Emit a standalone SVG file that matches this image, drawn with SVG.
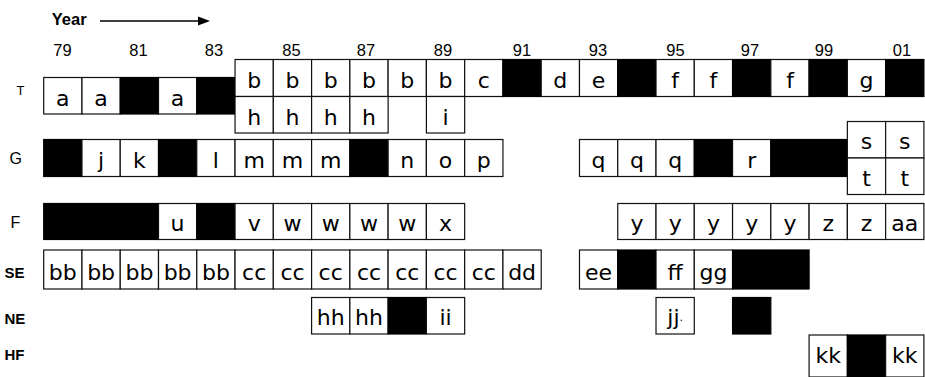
<svg xmlns="http://www.w3.org/2000/svg" width="925" height="377" viewBox="0 0 925 377">
<defs>
<marker id="ah" markerWidth="12" markerHeight="10" refX="1" refY="5" orient="auto" markerUnits="userSpaceOnUse">
<polygon points="0,0.5 12,5 0,9.5" fill="#000"/>
</marker>
<style>
.w{fill:#fff;stroke:#111;stroke-width:1.2}
.k{fill:#000;stroke:#000;stroke-width:1.2}
.t{font-family:"DejaVu Sans","Liberation Sans",sans-serif;font-size:22px;text-anchor:middle;fill:#000}
.yr{font-family:"Liberation Sans",Arial,sans-serif;font-size:16.5px;text-anchor:middle;fill:#000}
.rl{font-family:"Liberation Sans",Arial,sans-serif;font-size:16px;fill:#000}
.rb{font-family:"Liberation Sans",Arial,sans-serif;font-size:15px;font-weight:bold;fill:#000}
</style>
</defs>
<rect width="925" height="377" fill="#fff"/>

<g id="axis">
<text x="51.7" y="25" font-family="Liberation Sans,Arial,sans-serif" font-size="16.5" font-weight="bold">Year</text>
<g class="yr">
<text x="62.5" y="56">79</text><text x="138.5" y="56">81</text><text x="214" y="56">83</text><text x="291.5" y="56">85</text>
<text x="366" y="56">87</text><text x="443" y="56">89</text><text x="522" y="56">91</text><text x="598" y="56">93</text>
<text x="675.5" y="56">95</text><text x="750" y="56">97</text><text x="824" y="56">99</text><text x="902" y="56">01</text>
</g>
</g>

<g id="connectors">
<line x1="100" y1="21" x2="199" y2="21" stroke="#000" stroke-width="1.4" marker-end="url(#ah)"/>
</g>

<g id="labels">
<text x="16.5" y="94.5" style="font-family:'Liberation Sans',Arial,sans-serif;font-size:13px">T</text>
<text class="rl" x="9.5" y="164">G</text>
<text class="rl" x="10.5" y="228">F</text>
<text class="rb" x="4.5" y="277.5">SE</text>
<text class="rb" x="4.5" y="323.5">NE</text>
<text class="rb" x="4.5" y="359.5">HF</text>
</g>

<g id="row-T">
<rect class="w" x="43.7" y="77.5" width="38.27" height="36.5"/><text class="t" x="62.8" y="105.5">a</text>
<rect class="w" x="81.97" y="77.5" width="38.27" height="36.5"/><text class="t" x="101.1" y="105.5">a</text>
<rect class="k" x="120.24" y="77.5" width="38.27" height="36.5"/>
<rect class="w" x="158.51" y="77.5" width="38.27" height="36.5"/><text class="t" x="177.6" y="105.5">a</text>
<rect class="k" x="196.78" y="77.5" width="38.27" height="36.5"/>
<rect class="w" x="235.05" y="59.5" width="38.27" height="37"/><text class="t" x="254.2" y="87.5">b</text>
<rect class="w" x="273.32" y="59.5" width="38.27" height="37"/><text class="t" x="292.5" y="87.5">b</text>
<rect class="w" x="311.59" y="59.5" width="38.27" height="37"/><text class="t" x="330.7" y="87.5">b</text>
<rect class="w" x="349.86" y="59.5" width="38.27" height="37"/><text class="t" x="369" y="87.5">b</text>
<rect class="w" x="388.13" y="59.5" width="38.27" height="37"/><text class="t" x="407.3" y="87.5">b</text>
<rect class="w" x="426.4" y="59.5" width="38.27" height="37"/><text class="t" x="445.5" y="87.5">b</text>
<rect class="w" x="235.05" y="96.5" width="38.27" height="36.5"/><text class="t" x="254.2" y="124.5">h</text>
<rect class="w" x="273.32" y="96.5" width="38.27" height="36.5"/><text class="t" x="292.5" y="124.5">h</text>
<rect class="w" x="311.59" y="96.5" width="38.27" height="36.5"/><text class="t" x="330.7" y="124.5">h</text>
<rect class="w" x="349.86" y="96.5" width="38.27" height="36.5"/><text class="t" x="369" y="124.5">h</text>
<rect class="w" x="426.4" y="96.5" width="38.27" height="36.5"/><text class="t" x="445.5" y="124.5">i</text>
<rect class="w" x="464.67" y="59.5" width="38.27" height="37"/><text class="t" x="483.8" y="87.5">c</text>
<rect class="k" x="502.94" y="59.5" width="38.27" height="37"/>
<rect class="w" x="541.21" y="59.5" width="38.27" height="37"/><text class="t" x="560.3" y="87.5">d</text>
<rect class="w" x="579.48" y="59.5" width="38.27" height="37"/><text class="t" x="598.6" y="87.5">e</text>
<rect class="k" x="617.75" y="59.5" width="38.27" height="37"/>
<rect class="w" x="656.02" y="59.5" width="38.27" height="37"/><text class="t" x="675.2" y="87.5">f</text>
<rect class="w" x="694.29" y="59.5" width="38.27" height="37"/><text class="t" x="713.4" y="87.5">f</text>
<rect class="k" x="732.56" y="59.5" width="38.27" height="37"/>
<rect class="w" x="770.83" y="59.5" width="38.27" height="37"/><text class="t" x="790" y="87.5">f</text>
<rect class="k" x="809.1" y="59.5" width="38.27" height="37"/>
<rect class="w" x="847.37" y="59.5" width="38.27" height="37"/><text class="t" x="866.5" y="87.5">g</text>
<rect class="k" x="885.64" y="59.5" width="38.27" height="37"/>
</g>

<g id="row-G">
<rect class="k" x="43.7" y="139.5" width="38.27" height="37"/>
<rect class="w" x="81.97" y="139.5" width="38.27" height="37"/><text class="t" x="101.1" y="167.5">j</text>
<rect class="w" x="120.24" y="139.5" width="38.27" height="37"/><text class="t" x="139.4" y="167.5">k</text>
<rect class="k" x="158.51" y="139.5" width="38.27" height="37"/>
<rect class="w" x="196.78" y="139.5" width="38.27" height="37"/><text class="t" x="215.9" y="167.5">l</text>
<rect class="w" x="235.05" y="139.5" width="38.27" height="37"/><text class="t" x="254.2" y="167.5">m</text>
<rect class="w" x="273.32" y="139.5" width="38.27" height="37"/><text class="t" x="292.5" y="167.5">m</text>
<rect class="w" x="311.59" y="139.5" width="38.27" height="37"/><text class="t" x="330.7" y="167.5">m</text>
<rect class="k" x="349.86" y="139.5" width="38.27" height="37"/>
<rect class="w" x="388.13" y="139.5" width="38.27" height="37"/><text class="t" x="407.3" y="167.5">n</text>
<rect class="w" x="426.4" y="139.5" width="38.27" height="37"/><text class="t" x="445.5" y="167.5">o</text>
<rect class="w" x="464.67" y="139.5" width="38.27" height="37"/><text class="t" x="483.8" y="167.5">p</text>
<rect class="w" x="579.48" y="139.5" width="38.27" height="37"/><text class="t" x="598.6" y="167.5">q</text>
<rect class="w" x="617.75" y="139.5" width="38.27" height="37"/><text class="t" x="636.9" y="167.5">q</text>
<rect class="w" x="656.02" y="139.5" width="38.27" height="37"/><text class="t" x="675.2" y="167.5">q</text>
<rect class="k" x="694.29" y="139.5" width="38.27" height="37"/>
<rect class="w" x="732.56" y="139.5" width="38.27" height="37"/><text class="t" x="751.7" y="167.5">r</text>
<rect class="k" x="770.83" y="139.5" width="76.54" height="37"/>
<rect class="w" x="847.37" y="121.5" width="38.27" height="36.5"/><text class="t" x="866.5" y="149">s</text>
<rect class="w" x="885.64" y="121.5" width="38.27" height="36.5"/><text class="t" x="904.8" y="149">s</text>
<rect class="w" x="847.37" y="158" width="38.27" height="36.5"/><text class="t" x="866.5" y="185.5">t</text>
<rect class="w" x="885.64" y="158" width="38.27" height="36.5"/><text class="t" x="904.8" y="185.5">t</text>
</g>

<g id="row-F">
<rect class="k" x="43.7" y="203.5" width="114.81" height="36"/>
<rect class="w" x="158.51" y="203.5" width="38.27" height="36"/><text class="t" x="177.6" y="231">u</text>
<rect class="k" x="196.78" y="203.5" width="38.27" height="36"/>
<rect class="w" x="235.05" y="203.5" width="38.27" height="36"/><text class="t" x="254.2" y="231">v</text>
<rect class="w" x="273.32" y="203.5" width="38.27" height="36"/><text class="t" x="292.5" y="231">w</text>
<rect class="w" x="311.59" y="203.5" width="38.27" height="36"/><text class="t" x="330.7" y="231">w</text>
<rect class="w" x="349.86" y="203.5" width="38.27" height="36"/><text class="t" x="369" y="231">w</text>
<rect class="w" x="388.13" y="203.5" width="38.27" height="36"/><text class="t" x="407.3" y="231">w</text>
<rect class="w" x="426.4" y="203.5" width="38.27" height="36"/><text class="t" x="445.5" y="231">x</text>
<rect class="w" x="617.75" y="203.5" width="38.27" height="36"/><text class="t" x="636.9" y="231">y</text>
<rect class="w" x="656.02" y="203.5" width="38.27" height="36"/><text class="t" x="675.2" y="231">y</text>
<rect class="w" x="694.29" y="203.5" width="38.27" height="36"/><text class="t" x="713.4" y="231">y</text>
<rect class="w" x="732.56" y="203.5" width="38.27" height="36"/><text class="t" x="751.7" y="231">y</text>
<rect class="w" x="770.83" y="203.5" width="38.27" height="36"/><text class="t" x="790" y="231">y</text>
<rect class="w" x="809.1" y="203.5" width="38.27" height="36"/><text class="t" x="828.2" y="231">z</text>
<rect class="w" x="847.37" y="203.5" width="38.27" height="36"/><text class="t" x="866.5" y="231">z</text>
<rect class="w" x="885.64" y="203.5" width="38.27" height="36"/><text class="t" x="904.8" y="231">aa</text>
</g>

<g id="row-SE">
<rect class="w" x="43.7" y="250" width="38.27" height="39"/><text class="t" x="62.8" y="280">bb</text>
<rect class="w" x="81.97" y="250" width="38.27" height="39"/><text class="t" x="101.1" y="280">bb</text>
<rect class="w" x="120.24" y="250" width="38.27" height="39"/><text class="t" x="139.4" y="280">bb</text>
<rect class="w" x="158.51" y="250" width="38.27" height="39"/><text class="t" x="177.6" y="280">bb</text>
<rect class="w" x="196.78" y="250" width="38.27" height="39"/><text class="t" x="215.9" y="280">bb</text>
<rect class="w" x="235.05" y="250" width="38.27" height="39"/><text class="t" x="254.2" y="280">cc</text>
<rect class="w" x="273.32" y="250" width="38.27" height="39"/><text class="t" x="292.5" y="280">cc</text>
<rect class="w" x="311.59" y="250" width="38.27" height="39"/><text class="t" x="330.7" y="280">cc</text>
<rect class="w" x="349.86" y="250" width="38.27" height="39"/><text class="t" x="369" y="280">cc</text>
<rect class="w" x="388.13" y="250" width="38.27" height="39"/><text class="t" x="407.3" y="280">cc</text>
<rect class="w" x="426.4" y="250" width="38.27" height="39"/><text class="t" x="445.5" y="280">cc</text>
<rect class="w" x="464.67" y="250" width="38.27" height="39"/><text class="t" x="483.8" y="280">cc</text>
<rect class="w" x="502.94" y="250" width="38.27" height="39"/><text class="t" x="522.1" y="280">dd</text>
<rect class="w" x="579.48" y="250" width="38.27" height="39"/><text class="t" x="598.6" y="280">ee</text>
<rect class="k" x="617.75" y="250" width="38.27" height="39"/>
<rect class="w" x="656.02" y="250" width="38.27" height="39"/><text class="t" x="675.2" y="280">ff</text>
<rect class="w" x="694.29" y="250" width="38.27" height="39"/><text class="t" x="713.4" y="280">gg</text>
<rect class="k" x="732.56" y="250" width="76.54" height="39"/>
</g>

<g id="row-NE">
<rect class="w" x="311.59" y="297.5" width="38.27" height="36.5"/><text class="t" x="330.7" y="325">hh</text>
<rect class="w" x="349.86" y="297.5" width="38.27" height="36.5"/><text class="t" x="369" y="325">hh</text>
<rect class="k" x="388.13" y="297.5" width="38.27" height="36.5"/>
<rect class="w" x="426.4" y="297.5" width="38.27" height="36.5"/><text class="t" x="445.5" y="325">ii</text>
<rect class="w" x="656.02" y="297.5" width="38.27" height="36.5"/><text class="t" x="675.2" y="325">jj<tspan font-size="11" dy="-4">.</tspan></text>
<rect class="k" x="732.56" y="297.5" width="38.27" height="36.5"/>
</g>

<g id="row-HF">
<rect class="w" x="809.1" y="335" width="38.27" height="42"/><text class="t" x="828.2" y="362.5">kk</text>
<rect class="k" x="847.37" y="335" width="38.27" height="42"/>
<rect class="w" x="885.64" y="335" width="38.27" height="42"/><text class="t" x="904.8" y="362.5">kk</text>
</g>
</svg>
